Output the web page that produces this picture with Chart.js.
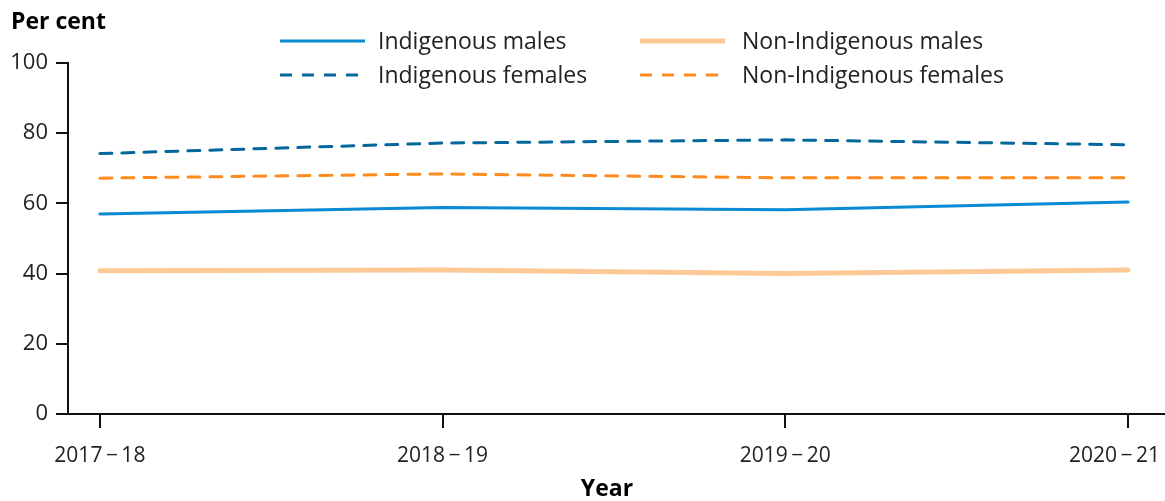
<!DOCTYPE html>
<html>
<head>
<meta charset="utf-8">
<script src="https://cdn.jsdelivr.net/npm/chart.js@4/dist/chart.umd.min.js"></script>
<style>
  html, body { margin: 0; padding: 0; background: #fff; }
  #wrap { width: 1165px; height: 501px; position: relative; }
</style>
</head>
<body>
<div id="wrap"><canvas id="grafico"></canvas></div>
<script>
// datos
const years = ['2017\u2009\u2212\u200918', '2018\u2009\u2212\u200919', '2019\u2009\u2212\u200920', '2020\u2009\u2212\u200921'];
const indigenousMales = [57.0, 58.8, 58.2, 60.4];
const indigenousFemales = [74.2, 77.2, 78.1, 76.7];
const nonIndigenousMales = [40.8, 41.0, 40.0, 41.0];
const nonIndigenousFemales = [67.2, 68.4, 67.3, 67.3];
const yTicks = [0, 20, 40, 60, 80, 100];

const fuente = '"Open Sans", sans-serif';

function puntos(arr) {
    return arr.map((v, i) => ({ x: i, y: v }));
}

// leyenda, titulos y etiquetas del eje x dibujados a mano
const textosPlugin = {
    id: 'textos',
    afterDraw(chart) {
        const ctx = chart.ctx;
        ctx.save();
        ctx.fillStyle = '#000';
        ctx.font = 'bold 23px ' + fuente;
        ctx.textBaseline = 'alphabetic';
        ctx.textAlign = 'left';
        ctx.fillText('Per cent', 11, 29);
        ctx.textAlign = 'center';
        ctx.fillText('Year', 607, 496);

        // etiquetas del eje x (la ultima se mete dentro del lienzo)
        const xs = chart.scales.x;
        ctx.font = '21px ' + fuente;
        ctx.fillStyle = '#222';
        years.forEach((lab, i) => {
            const w = ctx.measureText(lab).width;
            let cx = xs.getPixelForValue(i);
            cx = Math.min(cx, chart.width - 5 - w / 2);
            ctx.fillText(lab, cx, 462);
        });

        const pos = [
            { x: 280, y: 41, t: 378 },
            { x: 280, y: 75, t: 378 },
            { x: 640, y: 41, t: 742 },
            { x: 640, y: 75, t: 742 }
        ];
        ctx.textAlign = 'left';
        ctx.textBaseline = 'middle';
        ctx.font = '23px ' + fuente;
        chart.data.datasets.forEach((ds, i) => {
            const p = pos[i];
            ctx.strokeStyle = ds.borderColor;
            ctx.lineWidth = ds.borderWidth;
            ctx.setLineDash(ds.borderDash || []);
            ctx.lineCap = 'butt';
            ctx.beginPath();
            ctx.moveTo(p.x, p.y);
            ctx.lineTo(p.x + 85, p.y);
            ctx.stroke();
            ctx.setLineDash([]);
            ctx.fillStyle = '#222';
            ctx.fillText(ds.label, p.t, p.y + 1);
        });
        ctx.restore();
    }
};

const ctx = document.getElementById('grafico');

const myChart = new Chart(ctx, {
    type: 'line',
    data: {
        datasets: [
            {
                label: 'Indigenous males',
                data: puntos(indigenousMales),
                borderColor: '#0a8ad4',
                borderWidth: 3
            },
            {
                label: 'Indigenous females',
                data: puntos(indigenousFemales),
                borderColor: '#03679b',
                borderWidth: 3,
                borderDash: [12, 10]
            },
            {
                label: 'Non-Indigenous males',
                data: puntos(nonIndigenousMales),
                borderColor: '#fdc996',
                borderWidth: 5
            },
            {
                label: 'Non-Indigenous females',
                data: puntos(nonIndigenousFemales),
                borderColor: '#fd8b20',
                borderWidth: 3,
                borderDash: [12, 10]
            }
        ]
    },
    options: {
        responsive: true,
        maintainAspectRatio: false,
        animation: false,
        layout: {
            padding: { top: 63, right: 0, bottom: 0, left: 0 }
        },
        elements: {
            point: { radius: 0 },
            line: { tension: 0, borderCapStyle: 'round' }
        },
        scales: {
            x: {
                type: 'linear',
                min: -0.093,
                max: 3.108,
                afterBuildTicks(scale) {
                    scale.ticks = years.map((y, i) => ({ value: i }));
                },
                afterFit(scale) {
                    scale.height = 87;
                    scale.paddingLeft = 0;
                    scale.paddingRight = 0;
                },
                ticks: {
                    display: false,
                    autoSkip: false
                },
                grid: {
                    drawOnChartArea: false,
                    drawTicks: true,
                    tickLength: 14,
                    color: '#111',
                    lineWidth: 2
                },
                border: { display: true, color: '#111', width: 2 }
            },
            y: {
                min: 0,
                max: 100,
                afterBuildTicks(scale) {
                    scale.ticks = yTicks.map(v => ({ value: v }));
                },
                afterFit(scale) {
                    scale.width = 68;
                },
                ticks: {
                    color: '#222',
                    padding: 8,
                    font: { family: fuente, size: 22 }
                },
                grid: {
                    drawOnChartArea: false,
                    drawTicks: true,
                    tickLength: 12,
                    color: '#111',
                    lineWidth: 2
                },
                border: { display: true, color: '#111', width: 2 }
            }
        },
        plugins: {
            legend: { display: false },
            tooltip: { enabled: false },
            title: { display: false }
        }
    },
    plugins: [textosPlugin]
});
</script>
</body>
</html>
